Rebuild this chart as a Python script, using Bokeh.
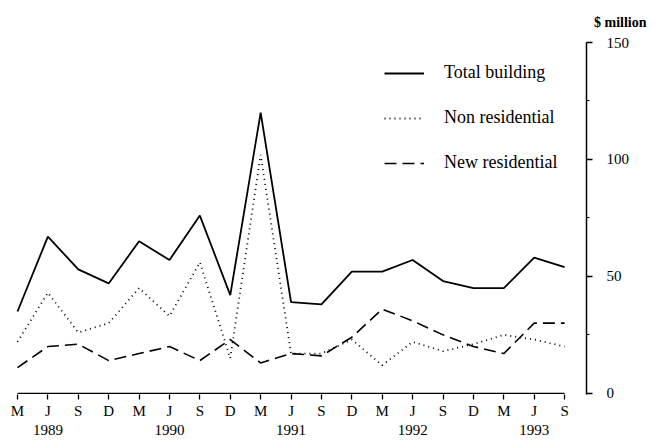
from bokeh.plotting import figure
from bokeh.models import FixedTicker, LinearAxis, SingleIntervalTicker, Title, Range1d
from bokeh.embed import file_html
from bokeh.resources import INLINE

# ---- data ----
quarters = ["M", "J", "S", "D", "M", "J", "S", "D", "M", "J", "S", "D",
            "M", "J", "S", "D", "M", "J", "S"]
year_labels = ["1989", "1990", "1991", "1992", "1993"]
year_positions = [1, 5, 9, 13, 17]
total_building = [35, 67, 53, 47, 65, 57, 76, 42, 120, 39, 38, 52, 52, 57, 48, 45, 45, 58, 54]
non_residential = [22, 43, 26, 30, 45, 33, 56, 15, 102, 17, 17, 23, 12, 22, 18, 21, 25, 23, 20]
new_residential = [11, 20, 21, 14, 17, 20, 14, 23, 13, 17, 16, 24, 36, 31, 25, 20, 17, 30, 30]

idx = list(range(len(quarters)))
FONT = "Liberation Serif"

p = figure(frame_width=577, frame_height=352,
           x_range=Range1d(-0.263, 18.72), y_range=Range1d(-0.5, 150),
           y_axis_location="right", output_backend="svg", toolbar_location=None,
           min_border_left=9, min_border_top=42, min_border_right=64, min_border_bottom=30)

p.outline_line_color = None
p.xgrid.visible = False
p.ygrid.visible = False
p.background_fill_color = "white"

# lines
p.line(idx, total_building, line_color="black", line_width=1.8, legend_label="Total building")
p.line(idx, non_residential, line_color="black", line_width=1.8, line_dash="1 4",
       legend_label="Non residential")
p.line(idx, new_residential, line_color="black", line_width=1.6, line_dash="12 6",
       legend_label="New residential")

# x axis baseline (only spanning the data range)
p.line([idx[0], idx[-1]], [0, 0], line_color="black", line_width=1.3)

# x axis: quarter letters
xa = p.xaxis[0]
xa.ticker = FixedTicker(ticks=idx)
xa.major_label_overrides = {i: q for i, q in zip(idx, quarters)}
xa.axis_line_color = None
xa.major_tick_line_color = "black"
xa.major_tick_line_width = 1.3
xa.major_tick_out = 5
xa.major_tick_in = 0
xa.major_label_standoff = 3
xa.major_label_text_font = FONT
xa.major_label_text_font_size = "15px"
xa.major_label_text_color = "black"

# x axis: years
ya_years = LinearAxis(ticker=FixedTicker(ticks=year_positions),
                      major_label_overrides={pos: y for pos, y in zip(year_positions, year_labels)})
ya_years.axis_line_color = None
ya_years.major_tick_line_color = None
ya_years.minor_tick_line_color = None
ya_years.major_label_standoff = -3
ya_years.major_label_text_font = FONT
ya_years.major_label_text_font_size = "15px"
ya_years.major_label_text_color = "black"
p.add_layout(ya_years, "below")

# right y axis
ra = p.yaxis[0]
ra.ticker = SingleIntervalTicker(interval=50, num_minor_ticks=2)
ra.axis_line_color = "black"
ra.axis_line_width = 1.5
ra.major_tick_out = 6
ra.major_tick_in = 0
ra.minor_tick_out = 3
ra.minor_tick_in = 0
ra.major_tick_line_width = 1.3
ra.major_label_standoff = 14
ra.major_label_text_font = FONT
ra.major_label_text_font_size = "15px"
ra.major_label_text_color = "black"

# unit label
p.add_layout(Title(text="$ million", align="right", offset=-60, standoff=25,
                   text_font=FONT, text_font_size="14px", text_font_style="bold",
                   text_color="black"), "above")

# legend
lg = p.legend[0]
lg.location = (375, 221)
lg.border_line_color = None
lg.background_fill_alpha = 0
lg.label_text_font = FONT
lg.label_text_font_size = "18px"
lg.label_text_color = "black"
lg.glyph_width = 40
lg.label_standoff = 20
lg.spacing = 24
lg.padding = 0
lg.margin = 0

open("out.html", "w").write(file_html(p, INLINE))
